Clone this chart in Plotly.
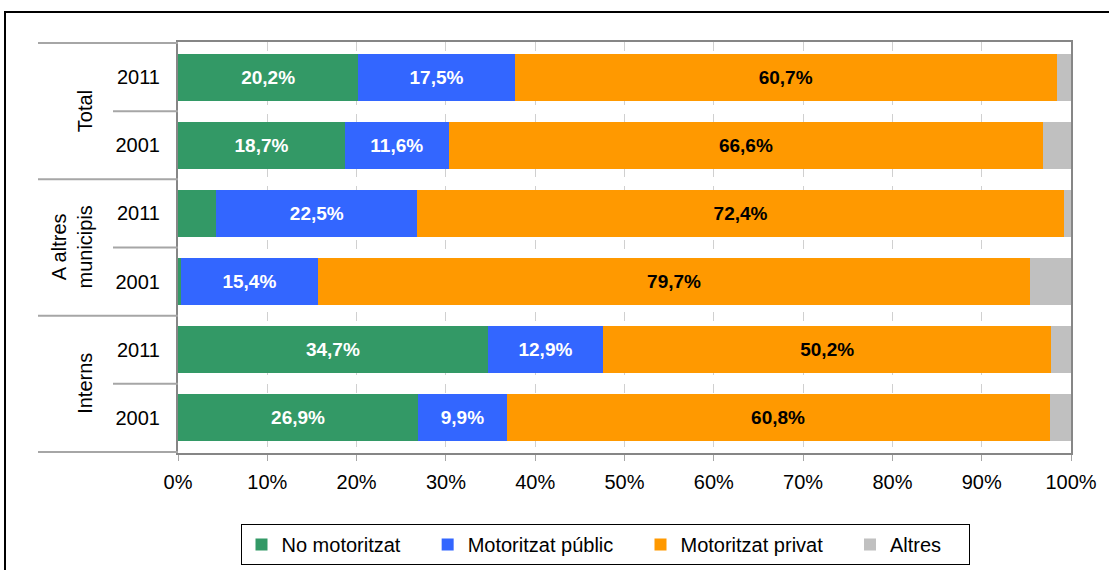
import plotly.graph_objects as go

# rows, top to bottom
groups = ["Total", "Total", "A altres<br>municipis", "A altres<br>municipis", "Interns", "Interns"]
years = ["2011", "2001", "2011", "2001", "2011", "2001"]
categories = [f"{g} {y}" for g, y in zip(groups, years)]

no_motoritzat = [20.2, 18.7, 4.3, 0.3, 34.7, 26.9]
motoritzat_public = [17.5, 11.6, 22.5, 15.4, 12.9, 9.9]
motoritzat_privat = [60.7, 66.6, 72.4, 79.7, 50.2, 60.8]
altres = [1.6, 3.1, 0.8, 4.6, 2.2, 2.4]

series = [
    ("No motoritzat", no_motoritzat, "#339966", "white"),
    ("Motoritzat públic", motoritzat_public, "#3366FF", "white"),
    ("Motoritzat privat", motoritzat_privat, "#FF9900", "black"),
    ("Altres", altres, "#C0C0C0", "black"),
]

FONT = "Liberation Sans, Arial, sans-serif"
L, R, T, B = 178, 38, 42, 117
W, H = 1109, 570
pw, ph = W - L - R, H - T - B


def label(v):
    return f"{v:.1f}%".replace(".", ",") if v >= 5 else ""


fig = go.Figure()
for name, vals, color, tcolor in series:
    fig.add_trace(go.Bar(
        y=categories,
        x=vals,
        orientation="h",
        name=name + "\u00a0" * 4,
        marker=dict(color=color, line=dict(width=0)),
        text=[label(v) if name != "Altres" else "" for v in vals],
        textposition="inside",
        insidetextanchor="middle",
        textangle=0,
        constraintext="none",
        textfont=dict(family=FONT, size=19, color=tcolor, weight="bold"),
    ))

# group labels on the left
shown = []
for idx, g in enumerate(groups):
    if g in shown:
        continue
    shown.append(g)
    fig.add_annotation(
        x=(85 - L) / pw if "<br>" not in g else (71 - L) / pw,
        xref="paper", y=idx + 0.5, yref="y",
        text=g, textangle=-90, showarrow=False,
        xanchor="center", yanchor="middle",
        font=dict(family=FONT, size=20, color="black"),
    )

# divider lines: long ones between groups, short ones between years
for b in [-0.5, 0.5, 1.5, 2.5, 3.5, 4.5, 5.5]:
    start = 38 if b in (-0.5, 1.5, 3.5, 5.5) else 113
    fig.add_shape(type="line", xref="paper", yref="y",
                  x0=(start - L) / pw, x1=0, y0=b, y1=b,
                  line=dict(color="#a6a6a6", width=2))

# outer frame
fig.add_shape(type="rect", xref="paper", yref="paper",
              x0=(5 - L) / pw, x1=1.2, y0=-0.4, y1=(H - B - 12) / ph,
              line=dict(color="black", width=2))

fig.update_layout(
    width=W, height=H,
    margin=dict(l=L, r=R, t=T, b=B, autoexpand=False),
    barmode="stack",
    bargap=0.31,
    plot_bgcolor="white",
    paper_bgcolor="white",
    font=dict(family=FONT, size=20, color="black"),
    showlegend=True,
    legend=dict(
        orientation="h",
        x=(605 - L) / pw, xanchor="center",
        y=(H - B - 524) / ph, yanchor="top",
        bordercolor="black", borderwidth=1,
        font=dict(family=FONT, size=20, color="black"),
        traceorder="normal",
    ),
    xaxis=dict(
        range=[0, 100], dtick=10, ticksuffix="%",
        showgrid=True, gridcolor="#d0d0d0", griddash="dash", gridwidth=1,
        showline=True, linecolor="#868686", linewidth=2, mirror=True,
        ticks="outside", ticklen=6, tickcolor="#a6a6a6", tickwidth=1,
        ticklabelstandoff=4,
        zeroline=False, fixedrange=True,
    ),
    yaxis=dict(
        categoryorder="array", categoryarray=categories,
        autorange="reversed",
        tickvals=categories, ticktext=years,
        ticks="outside", ticklen=12, tickcolor="rgba(0,0,0,0)",
        showgrid=False,
        showline=True, linecolor="#868686", linewidth=2, mirror=True,
        zeroline=False, fixedrange=True,
    ),
)

fig.write_html("out.html", config={"displayModeBar": False},
               post_script="document.body.style.margin='0px';")
